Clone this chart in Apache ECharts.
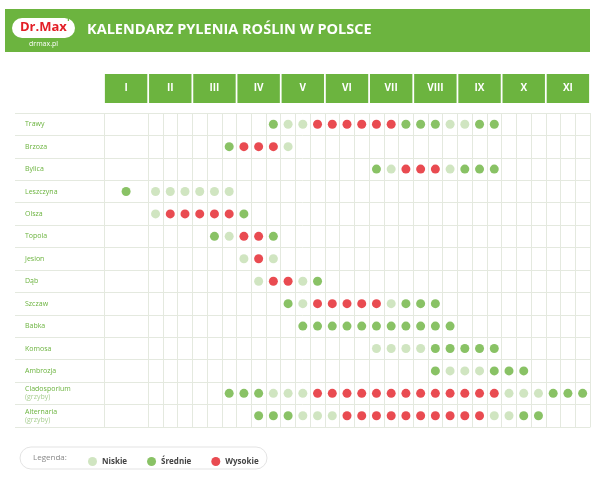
<!DOCTYPE html>
<html><head><meta charset="utf-8">
<script src="https://cdn.jsdelivr.net/npm/echarts@6/dist/echarts.min.js"></script>
<style>html,body{margin:0;padding:0;background:#fff}#c{width:600px;height:480px}</style>
</head><body><div id="c"></div>
<script>
const months = ['I','II','III','IV','V','VI','VII','VIII','IX','X','XI'];
const weeks = Array.from({length:33},(_,i)=>String(i));
const plants = ['Trawy','Brzoza','Bylica','Leszczyna','Olsza','Topola','Jesion','Dąb','Szczaw','Babka','Komosa','Ambrozja','Cladosporium|(grzyby)','Alternaria|(grzyby)'];
// start sub-column and level codes (L=Niskie, M=Średnie, H=Wysokie)
const starts = [11,8,18,1,3,7,9,10,12,13,18,22,8,10];
const levels = ['MLLHHHHHHMMMLLMM','MHHHL','MLHHHLMMM','M_LLLLLL','LHHHHHM','MLHHM','LHL','LHHLM','MLHHHHHLMMM','MMMMMMMMMMM','LLLLMMMMM','MLLLMMM','MMMLLLHHHHHHHHHHHHHLLLMMM','MMMLLLHHHHHHHHHHLLMM'];
const levelNames = {L:'Niskie',M:'Średnie',H:'Wysokie'};
const levelColors = {L:'#c4deb1',M:'#6bb33e',H:'#e31e26'};

const pts = {L:[],M:[],H:[]};
levels.forEach((s,r)=>{[...s].forEach((c,k)=>{ if(pts[c]) pts[c].push([starts[r]+k, r]); });});

const chart = echarts.init(document.getElementById('c'));
const lineCol = '#e4e9df';
chart.setOption({
  animation:false,
  graphic:[
    {type:'rect',shape:{x:5,y:9,width:585,height:43},style:{fill:'#6cb43f'}},
    {type:'rect',shape:{x:12,y:18,width:63,height:20,r:10},style:{fill:'#fff'}},
    {type:'text',style:{x:20,y:21,text:'Dr.Max',fill:'#e31e26',font:'bold 13px "Open Sans"'}},
    {type:'text',style:{x:65,y:13,text:'+',fill:'#6cb43f',font:'bold 12px "Open Sans"'}},
    {type:'text',style:{x:29,y:40,text:'drmax.pl',fill:'#fff',font:'7px "Open Sans"'}},
    {type:'text',style:{x:87,y:22,text:'KALENDARZ PYLENIA ROŚLIN W POLSCE',fill:'#fff',font:'bold 14.5px "Open Sans"'}},
    {type:'rect',shape:{x:20,y:447,width:247,height:22,r:11},style:{fill:'#fff',stroke:'#e3e3e3',lineWidth:1}},
    {type:'text',style:{x:33,y:454,text:'Legenda:',fill:'#888',font:'8px "Open Sans"'}}
  ],
  legend:{left:83,top:452,itemGap:20,itemWidth:9,itemHeight:9,icon:'circle',
    textStyle:{fontSize:8,fontWeight:'bold',color:'#444',fontFamily:'Open Sans'},
    data:['Niskie','Średnie','Wysokie']},
  grid:[
    {left:104,right:10,top:74,height:29},
    {left:15,right:10,top:113,bottom:53},
    {left:104,right:10,top:113,bottom:53}
  ],
  xAxis:[
    {gridIndex:0,type:'category',data:months,show:false},
    {gridIndex:1,type:'value',show:false,min:0,max:1},
    {gridIndex:2,type:'category',data:weeks,axisLabel:{show:false},axisTick:{show:false},
      axisLine:{show:true,lineStyle:{color:lineCol}},
      splitLine:{show:true,interval:(i)=>!(i===1||i===2),lineStyle:{color:lineCol,width:1}}}
  ],
  yAxis:[
    {gridIndex:0,type:'value',show:false,min:0,max:1},
    {gridIndex:1,type:'category',inverse:true,data:plants,
      axisLine:{show:false},axisTick:{show:false},
      splitLine:{show:true,lineStyle:{color:lineCol}},
      axisLabel:{inside:true,margin:10,fontSize:7,color:'#6bb33e',fontFamily:'Open Sans',align:'left',
        formatter:(v)=>{const p=v.split('|');return p.length>1?p[0]+'\n{g|'+p[1]+'}':p[0];},
        lineHeight:8,rich:{g:{fontSize:7,color:'#a9cf92',lineHeight:8}}}},
    {gridIndex:2,type:'category',inverse:true,data:plants,show:false}
  ],
  series:[
    {type:'bar',xAxisIndex:0,yAxisIndex:0,data:months.map(()=>1),barWidth:'96%',
      itemStyle:{color:'#6cb43f'},silent:true,
      label:{show:true,position:'inside',formatter:(p)=>p.name,color:'#fff',fontWeight:'bold',fontSize:10,fontFamily:'Open Sans'}},
    ...['L','M','H'].map(k=>({type:'scatter',name:levelNames[k],xAxisIndex:2,yAxisIndex:2,
      symbolSize:9,itemStyle:{color:levelColors[k]},data:pts[k]}))
  ]
});
</script></body></html>
